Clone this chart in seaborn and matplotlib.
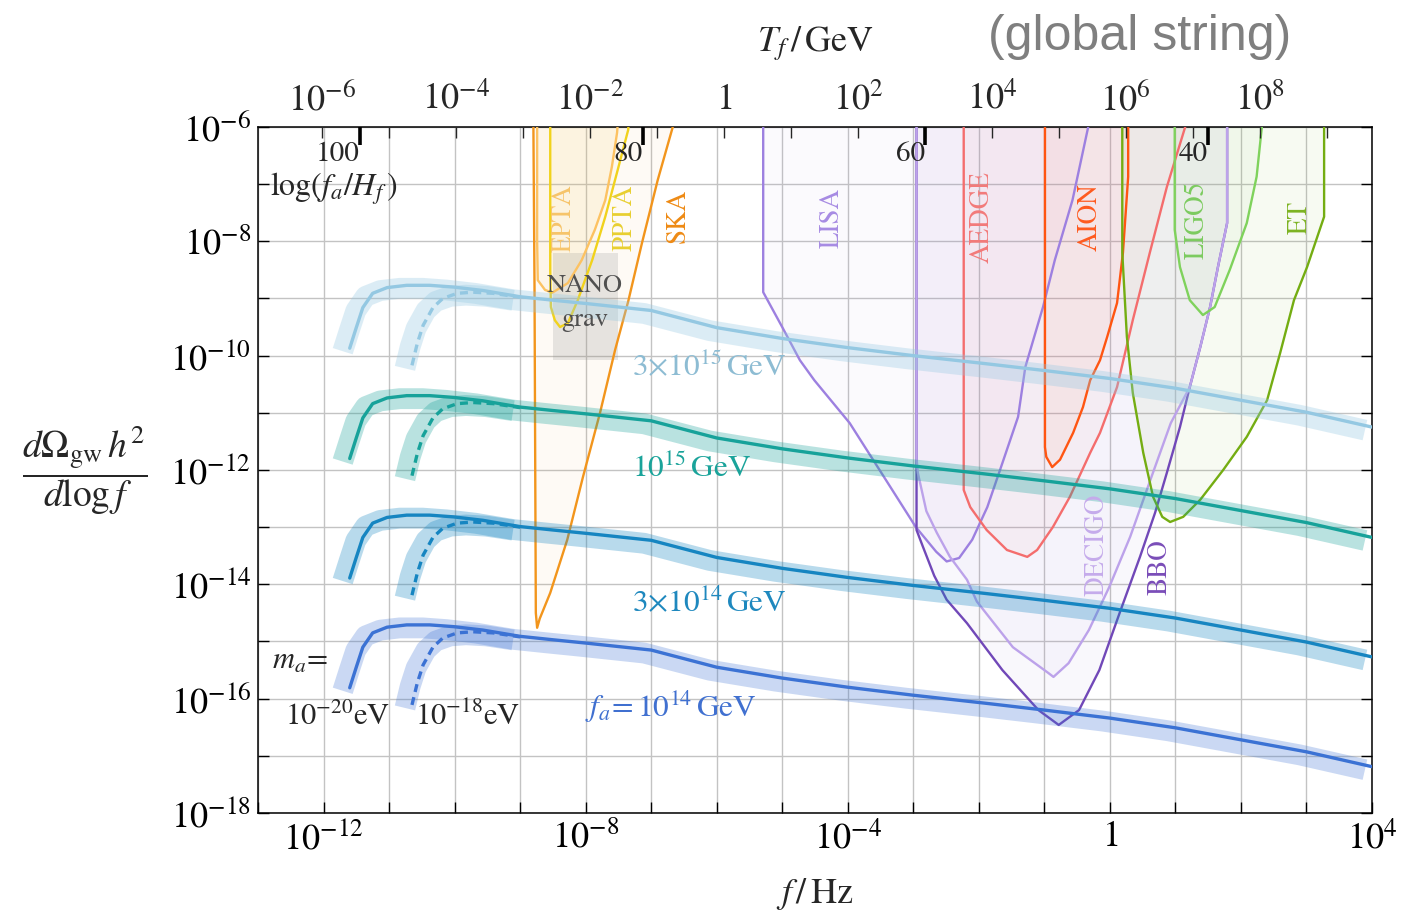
import numpy as np
import matplotlib
matplotlib.use("Agg")
import matplotlib.pyplot as plt
import matplotlib.ticker as mticker
import matplotlib.transforms as mtransforms
import seaborn as sns

# ------------------------------------------------------------------
# Gravitational-wave spectra of global strings (log10 values)
# ------------------------------------------------------------------
gw_logf = [-11.60, -11.50, -11.40, -11.25, -11.03, -10.73, -10.38, -10.02, -9.57,
           -9.00, -8.50, -7.98, -7.0, -6.0, -5.0, -4.0, -3.0, -1.9, -1.0, 0.0,
           1.0, 2.0, 3.0, 4.0]
gw_fa_1e14 = [-15.81, -15.45, -15.10, -14.85, -14.75, -14.71, -14.71, -14.74, -14.80,
              -14.91, -14.97, -15.03, -15.15, -15.45, -15.64, -15.80, -15.94, -16.08,
              -16.20, -16.34, -16.51, -16.72, -16.93, -17.19]
gw_fa_3e14 = [-13.89, -13.53, -13.18, -12.93, -12.83, -12.79, -12.79, -12.82, -12.88,
              -12.99, -13.05, -13.11, -13.23, -13.53, -13.72, -13.88, -14.02, -14.16,
              -14.28, -14.42, -14.59, -14.80, -15.01, -15.27]
gw_fa_1e15 = [-11.80, -11.44, -11.09, -10.84, -10.74, -10.70, -10.70, -10.73, -10.79,
              -10.90, -10.96, -11.02, -11.14, -11.44, -11.63, -11.79, -11.93, -12.07,
              -12.19, -12.33, -12.50, -12.71, -12.92, -13.18]
gw_fa_3e15 = [-9.87, -9.51, -9.16, -8.91, -8.81, -8.77, -8.77, -8.80, -8.86,
              -8.97, -9.03, -9.09, -9.21, -9.51, -9.70, -9.86, -10.00, -10.14,
              -10.26, -10.40, -10.57, -10.78, -10.99, -11.25]

# heavier axion (m_a = 1e-18 eV): spectrum starts later
dash_logf = [-10.65, -10.57, -10.48, -10.33, -10.18, -9.96, -9.72, -9.41, -9.00]
dash_fa_1e14 = [-16.11, -15.73, -15.41, -15.10, -14.94, -14.85, -14.83, -14.85, -14.92]
dash_fa_3e14 = [-14.19, -13.81, -13.49, -13.18, -13.02, -12.93, -12.91, -12.93, -13.00]
dash_fa_1e15 = [-12.10, -11.72, -11.40, -11.09, -10.93, -10.84, -10.82, -10.84, -10.91]
dash_fa_3e15 = [-10.17, -9.79, -9.47, -9.16, -9.00, -8.91, -8.89, -8.91, -8.98]

fa_names = [r"$f_a\!=10^{14}\,$GeV", r"$3{\times}10^{14}\,$GeV",
            r"$10^{15}\,$GeV", r"$3{\times}10^{15}\,$GeV"]

# ------------------------------------------------------------------
# Experimental sensitivity curves (log10 f, log10 Omega h^2)
# ------------------------------------------------------------------
ska_logf = [-8.80, -8.78, -8.77, -8.76, -8.74, -8.70, -8.54, -8.28, -8.04, -7.78,
            -7.55, -7.35, -7.14, -6.90, -6.67, -6.57]
ska_logo = [-5.5, -8.80, -11.70, -14.50, -14.76, -14.60, -14.15, -13.22, -12.12,
            -11.00, -9.90, -9.05, -8.03, -6.93, -6.00, -5.5]
epta_logf = [-8.74, -8.74, -8.73, -8.62, -8.51, -8.27, -8.06, -7.86, -7.70, -7.60,
             -7.52, -7.48]
epta_logo = [-5.5, -8.0, -8.68, -8.85, -8.90, -8.73, -8.33, -7.80, -7.28, -6.70,
             -6.10, -5.5]
ppta_logf = [-8.54, -8.54, -8.53, -8.47, -8.39, -8.27, -8.12, -7.90, -7.70, -7.51,
             -7.35, -7.32]
ppta_logo = [-5.5, -8.5, -9.15, -9.38, -9.50, -9.43, -9.03, -8.33, -7.57, -6.75,
             -6.05, -5.5]
nanograv_logf = [-8.50, -7.51, -7.51, -8.50]
nanograv_logo = [-8.20, -8.20, -10.08, -10.08]
lisa_logf = [-5.29, -5.29, -5.00, -4.73, -4.51, -3.97, -3.42, -2.96, -2.65, -2.49,
             -2.30, -2.10, -1.87, -1.64, -1.40, -1.29, -1.02, -0.84, -0.57, -0.33,
             -0.26]
lisa_logo = [-5.5, -8.89, -9.50, -10.08, -10.43, -11.18, -12.17, -13.00, -13.43,
             -13.60, -13.54, -13.22, -12.65, -11.88, -11.07, -10.20, -9.15, -8.33,
             -7.28, -6.00, -5.5]
aedge_logf = [-2.23, -2.23, -2.13, -1.88, -1.57, -1.26, -1.11, -0.87, -0.61, -0.30,
              -0.15, 0.11, 0.35, 0.61, 0.87, 1.15, 1.28]
aedge_logo = [-5.5, -12.35, -12.65, -13.05, -13.40, -13.52, -13.40, -13.00, -12.47,
              -11.70, -11.35, -10.55, -9.38, -8.20, -7.05, -6.00, -5.5]
aion_logf = [-0.99, -0.99, -0.97, -0.88, -0.76, -0.56, -0.41, -0.30, -0.15, -0.04,
             0.11, 0.20, 0.28, 0.28]
aion_logo = [-5.5, -11.60, -11.77, -11.95, -11.82, -11.35, -10.90, -10.43, -10.08,
             -9.67, -9.08, -8.20, -6.87, -5.5]
decigo_logf = [-2.95, -2.95, -2.93, -2.80, -2.64, -2.44, -2.18, -2.03, -1.48, -0.94,
               -0.86, -0.63, -0.32, -0.01, 0.31, 0.62, 0.93, 1.22, 1.38, 1.53, 1.65,
               1.79, 1.79]
decigo_logo = [-5.5, -11.80, -12.05, -12.72, -13.10, -13.52, -13.92, -14.30, -15.10,
               -15.55, -15.62, -15.38, -14.80, -14.05, -13.17, -12.17, -11.18, -10.55,
               -9.85, -9.15, -8.45, -7.68, -5.5]
bbo_logf = [-2.95, -2.95, -2.85, -2.68, -2.49, -2.18, -1.64, -1.09, -0.78, -0.47,
            -0.16, 0.15, 0.46, 0.69, 0.87, 1.07, 1.22, 1.38, 1.53, 1.65, 1.79, 1.79]
bbo_logo = [-5.5, -13.05, -13.35, -13.85, -14.27, -14.68, -15.50, -16.20, -16.46,
            -16.20, -15.50, -14.50, -13.52, -12.75, -12.05, -11.25, -10.55, -9.85,
            -9.15, -8.45, -7.68, -5.5]
ligo5_logf = [0.99, 0.99, 1.07, 1.22, 1.42, 1.60, 1.83, 2.09, 2.24, 2.32, 2.34]
ligo5_logo = [-5.5, -7.80, -8.45, -9.03, -9.29, -9.15, -8.50, -7.68, -6.87, -6.00, -5.5]
et_logf = [0.19, 0.19, 0.26, 0.35, 0.51, 0.66, 0.80, 0.92, 1.12, 1.38, 1.73, 2.09,
           2.40, 2.60, 2.81, 3.01, 3.27, 3.27]
et_logo = [-5.5, -8.20, -9.67, -10.65, -11.70, -12.47, -12.82, -12.91, -12.82,
           -12.52, -12.00, -11.42, -10.78, -9.95, -9.03, -8.45, -7.57, -5.5]

# tick values
x_decades = list(range(-13, 5))
y_decades = list(range(-18, -5))
T_decades = list(range(-6, 10))
logH_ticks = [100, 80, 60, 40]

F_MIN, F_MAX = 1e-13, 1e4
OMEGA_MIN, OMEGA_MAX = 1e-18, 1e-6

# temperature of the source at emission vs. observed frequency
T_SLOPE, T_REF_LOGF, T_REF_LOGT = 0.9783, -12.023, -6.0
# log(f_a / H_f) as a function of frequency
LH_0, LH_SLOPE = 46.95, 4.636


def p10(a):
    return np.power(10.0, np.asarray(a, dtype=float))


def f_to_T(f):
    return 10 ** (T_REF_LOGT + T_SLOPE * (np.log10(f) - T_REF_LOGF))


def f_to_logH(f):
    return LH_0 - LH_SLOPE * np.log10(f)


def pow_fmt(step):
    def _fmt(v, pos):
        if v <= 0:
            return ""
        e = int(round(np.log10(v)))
        if e % step:
            return ""
        return r"$1$" if e == 0 else r"$10^{%d}$" % e
    return _fmt


# ------------------------------------------------------------------
sns.set_style("ticks")
plt.rcParams["font.family"] = ["STIXGeneral", "DejaVu Serif"]
plt.rcParams["mathtext.fontset"] = "stix"
plt.rcParams["axes.unicode_minus"] = True

fig = plt.figure(figsize=(14.09, 9.18), dpi=100)
ax = fig.add_axes([0.1831, 0.1144, 0.7906, 0.7473])
ax.set_xscale("log")
ax.set_yscale("log")
ax.set_xlim(F_MIN, F_MAX)
ax.set_ylim(OMEGA_MIN, OMEGA_MAX)

# sensitivity regions
detectors = [
    (ska_logf, ska_logo, "#f2951c", 0.045),
    (epta_logf, epta_logo, "#fcc262", 0.08),
    (ppta_logf, ppta_logo, "#f1d21c", 0.04),
    (lisa_logf, lisa_logo, "#9d80e0", 0.035),
    (bbo_logf, bbo_logo, "#7148b8", 0.035),
    (decigo_logf, decigo_logo, "#bca2ea", 0.05),
    (aedge_logf, aedge_logo, "#f46d6d", 0.05),
    (aion_logf, aion_logo, "#ff5512", 0.05),
    (et_logf, et_logo, "#74ad12", 0.05),
    (ligo5_logf, ligo5_logo, "#7fd25c", 0.05),
]
for lf, lo, col, a in detectors:
    ax.fill(p10(lf), p10(lo), color=col, alpha=a, lw=0, zorder=1)
for lf, lo, col, a in detectors:
    ax.plot(p10(lf), p10(lo), color=col, lw=1.7, zorder=3)

ax.fill(p10(nanograv_logf), p10(nanograv_logo), color="#8a8a8a", alpha=0.2,
        lw=0, zorder=2)

# string spectra with their uncertainty bands
band_tf = mtransforms.offset_copy(ax.transData, fig=fig, x=-7, y=-3, units="dots")
spectra = [
    (gw_fa_1e14, dash_fa_1e14, "#3b72d4", 0.27),
    (gw_fa_3e14, dash_fa_3e14, "#1685c1", 0.30),
    (gw_fa_1e15, dash_fa_1e15, "#17a29a", 0.30),
    (gw_fa_3e15, dash_fa_3e15, "#94c8e2", 0.33),
]
for solid, dashed, col, a in spectra:
    ax.plot(p10(gw_logf), p10(solid), color=col, alpha=a, lw=15,
            solid_capstyle="butt", transform=band_tf, zorder=3.5)
    ax.plot(p10(dash_logf), p10(dashed), color=col, alpha=a, lw=15,
            solid_capstyle="butt", transform=band_tf, zorder=3.5)
    sns.lineplot(x=p10(gw_logf), y=p10(solid), color=col, lw=2.4, sort=False,
                 estimator=None, ax=ax, zorder=4, legend=False)
    sns.lineplot(x=p10(dash_logf), y=p10(dashed), color=col, lw=2.4, sort=False,
                 estimator=None, ax=ax, zorder=4, legend=False,
                 linestyle=(0, (2.4, 1.6)))

ax.set_xlim(F_MIN, F_MAX)
ax.set_ylim(OMEGA_MIN, OMEGA_MAX)

# axes styling
ax.set_axisbelow(True)
ax.grid(True, which="major", color="#c3c3c3", lw=1.0)
ax.xaxis.set_major_locator(mticker.FixedLocator(p10(x_decades)))
ax.yaxis.set_major_locator(mticker.FixedLocator(p10(y_decades)))
ax.xaxis.set_minor_locator(mticker.NullLocator())
ax.yaxis.set_minor_locator(mticker.NullLocator())
ax.xaxis.set_major_formatter(mticker.FuncFormatter(pow_fmt(4)))
ax.yaxis.set_major_formatter(mticker.FuncFormatter(pow_fmt(2)))
ax.tick_params(which="major", direction="in", length=8, width=1.0, colors="black",
               labelsize=26, right=True, top=False, pad=5)
ax.tick_params(axis="x", pad=6)
for s in ax.spines.values():
    s.set_color("black")
    s.set_linewidth(1.1)
ax.set_xlabel(r"$f\,/\,\mathrm{Hz}$", fontsize=26, labelpad=14)

# temperature axis on top
ax_T = ax.twiny()
ax_T.set_xscale("log")
ax_T.set_xlim(f_to_T(F_MIN), f_to_T(F_MAX))
ax_T.xaxis.set_major_locator(mticker.FixedLocator(p10(T_decades)))
ax_T.xaxis.set_minor_locator(mticker.NullLocator())
ax_T.xaxis.set_major_formatter(mticker.FuncFormatter(pow_fmt(2)))
ax_T.tick_params(axis="x", direction="in", length=8, width=1.0, labelsize=26, pad=7)
ax_T.set_xlabel(r"$T_f\,/\,\mathrm{GeV}$", fontsize=26, labelpad=22)
for s in ax_T.spines.values():
    s.set_visible(False)

# log(f_a/H_f) marks just inside the top edge
ax_L = ax.twiny()
ax_L.set_xlim(f_to_logH(F_MIN), f_to_logH(F_MAX))
ax_L.xaxis.set_major_locator(mticker.FixedLocator(logH_ticks))
ax_L.xaxis.set_minor_locator(mticker.NullLocator())
ax_L.xaxis.set_major_formatter(mticker.NullFormatter())
ax_L.tick_params(axis="x", direction="in", length=13, width=2.6, colors="black")
for s in ax_L.spines.values():
    s.set_visible(False)
lh_tf = mtransforms.blended_transform_factory(ax_L.transData, ax_L.transAxes)
for L in logH_ticks:
    ax_L.text(L, 0.960, f"{L}", transform=lh_tf, ha="right", va="center",
              fontsize=21, zorder=6)
ax.text(0.011, 0.910, r"$\log(f_a/H_f\,)$", transform=ax.transAxes, ha="left",
        va="center", fontsize=23, zorder=6)

# curve labels
fa_colors = ["#4070d0", "#1e88be", "#1aa39a", "#8dbcd3"]
fa_pos = [(-8.01, -16.15), (-7.29, -14.33), (-7.29, -12.0), (-7.29, -10.22)]
for name, col, (lx, ly) in zip(fa_names, fa_colors, fa_pos):
    ax.text(10 ** lx, 10 ** ly, name, color=col, fontsize=22.5, ha="left",
            va="center", zorder=6)
ax.text(10 ** -12.79, 10 ** -15.36, r"$m_a\!=$", fontsize=22, ha="left",
        va="center", zorder=6)
ax.text(10 ** -12.59, 10 ** -16.32, r"$10^{-20}$eV", fontsize=22, ha="left",
        va="center", zorder=6)
ax.text(10 ** -10.60, 10 ** -16.32, r"$10^{-18}$eV", fontsize=22, ha="left",
        va="center", zorder=6)

det_labels = [
    ("EPTA", -8.32, -7.59, "#f6c46a"),
    ("PPTA", -7.40, -7.59, "#e8cf30"),
    ("SKA", -6.59, -7.55, "#ee8a14"),
    ("LISA", -4.23, -7.59, "#a78be3"),
    ("AEDGE", -1.95, -7.57, "#f27a7a"),
    ("AION", -0.30, -7.57, "#ff5a1f"),
    ("LIGO5", 1.33, -7.62, "#7ccb5f"),
    ("ET", 2.90, -7.59, "#7db322"),
    ("DECIGO", -0.20, -13.31, "#c5abeb"),
    ("BBO", 0.76, -13.70, "#7a4db8"),
]
for txt, lx, ly, col in det_labels:
    ax.text(10 ** lx, 10 ** ly, txt, color=col, fontsize=19.5, rotation=90,
            ha="center", va="center", zorder=6)
ax.text(10 ** -8.01, 10 ** -8.78, "NANO", color="#505050", fontsize=19,
        ha="center", va="center", zorder=6)
ax.text(10 ** -8.01, 10 ** -9.38, "grav", color="#505050", fontsize=19,
        ha="center", va="center", zorder=6)

# y label and title
fig.text(0.06, 0.488, r"$\dfrac{d\Omega_{\mathrm{gw}}\,h^2}{d\log f}$", fontsize=27,
         ha="center", va="center")
fig.text(0.809, 0.96, "(global string)", fontsize=36, color="#7f7f7f",
         family="Liberation Sans", ha="center", va="center")

fig.savefig("out.png", dpi=100, facecolor="white")
